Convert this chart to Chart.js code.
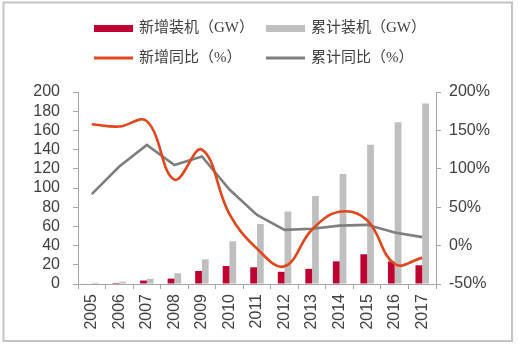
<!DOCTYPE html>
<html><head><meta charset="utf-8">
<script src="https://cdn.jsdelivr.net/npm/chart.js@4/dist/chart.umd.min.js"></script>
<style>html,body{margin:0;padding:0;background:#fff;}#wrap{width:518px;height:345px;position:relative;}</style>
</head><body><div id="wrap"><canvas id="c" width="518" height="345"></canvas></div>
<script>
const years = ['2005','2006','2007','2008','2009','2010','2011','2012','2013','2014','2015','2016','2017'];
const newCap = [0.5, 1.1, 3.6, 5.6, 13.6, 18.7, 17.4, 12.7, 15.8, 23.6, 31.0, 23.4, 19.5];
const cumCap = [1.3, 2.4, 5.4, 11.2, 25.7, 44.5, 62.5, 75.5, 91.7, 114.6, 145.0, 168.5, 188.0];
const newYoY = [158, 155, 162, 86, 125, 41, -4, -27, 21, 44, 33, -24, -16];
const cumYoY = [67, 103, 131, 105, 116, 73, 40, 20.5, 22, 26, 27, 17, 11];
const seriesNames = ['新增装机（GW）', '累计装机（GW）', '新增同比（%）', '累计同比（%）'];

const tickFont = {family: '"Liberation Sans", Arial, sans-serif', size: 16};
const axisColor = '#A6A6A6';
const textColor = '#404040';

const frameAndLegend = {
  id: 'frameAndLegend',
  beforeDraw(chart) {
    const ctx = chart.ctx;
    ctx.save();
    ctx.fillStyle = '#fff';
    ctx.fillRect(0, 0, chart.width, chart.height);
    ctx.strokeStyle = '#C4C4C4';
    ctx.lineWidth = 2;
    ctx.strokeRect(3.5, 2.5, 508.5, 338.5);
    ctx.restore();
  },
  afterDraw(chart) {
    const ctx = chart.ctx;
    const ds = chart.data.datasets;
    ctx.save();
    ctx.font = '15px "Liberation Serif", "Noto Sans CJK SC", serif';
    ctx.textBaseline = 'middle';
    ctx.textAlign = 'left';
    const cols = [[ds[0], ds[2]], [ds[1], ds[3]]];
    const boxW = 39, gap = 6, colGap = 12;
    const colW = cols.map(c => boxW + gap + Math.max(...c.map(d => ctx.measureText(d.label).width)));
    const total = colW[0] + colGap + colW[1];
    let x = 260 - total / 2;
    const rowsY = [28.5, 58];
    cols.forEach((c, ci) => {
      c.forEach((d, ri) => {
        const y = rowsY[ri];
        if (d.type === 'line') {
          ctx.fillStyle = d.borderColor;
          ctx.fillRect(x, y - 1.5, boxW, 3);
        } else {
          ctx.fillStyle = d.backgroundColor;
          ctx.fillRect(x, y - 3.5, boxW, 7);
        }
        ctx.fillStyle = textColor;
        ctx.fillText(d.label, x + boxW + gap, y);
      });
      x += colW[ci] + colGap;
    });
    ctx.restore();
  }
};

new Chart(document.getElementById('c'), {
  data: {
    labels: years,
    datasets: [
      {type: 'bar', label: seriesNames[0], data: newCap, backgroundColor: '#C00030', yAxisID: 'y', order: 2,
       barPercentage: 1, categoryPercentage: 0.49},
      {type: 'bar', label: seriesNames[1], data: cumCap, backgroundColor: '#BFBFBF', yAxisID: 'y', order: 2,
       barPercentage: 1, categoryPercentage: 0.49},
      {type: 'line', label: seriesNames[2], data: newYoY, borderColor: '#E2461A', borderWidth: 2.6, pointRadius: 0,
       tension: 0.4, fill: false, yAxisID: 'y1', order: 0},
      {type: 'line', label: seriesNames[3], data: cumYoY, borderColor: '#7F7F7F', borderWidth: 2.6, pointRadius: 0,
       tension: 0, fill: false, yAxisID: 'y1', order: 1}
    ]
  },
  options: {
    responsive: false,
    animation: false,
    devicePixelRatio: 1,
    layout: {padding: {top: 92, left: 0, right: 0, bottom: 0}},
    plugins: {legend: {display: false}, tooltip: {enabled: false}},
    scales: {
      x: {
        offset: true,
        grid: {display: true, drawOnChartArea: false, drawTicks: true, tickLength: 5, color: axisColor, offset: true},
        border: {display: true, color: axisColor, width: 1},
        ticks: {minRotation: 90, maxRotation: 90, autoSkip: false, padding: 5, color: textColor, font: tickFont},
        afterFit(s) { s.height = 61; }
      },
      y: {
        position: 'left', min: 0, max: 200,
        grid: {display: true, drawOnChartArea: false, drawTicks: true, tickLength: 5, color: axisColor},
        border: {display: true, color: axisColor, width: 1},
        ticks: {stepSize: 20, autoSkip: false, padding: 13, color: textColor, font: tickFont},
        afterFit(s) { s.width = 78; }
      },
      y1: {
        position: 'right', min: -50, max: 200,
        grid: {display: true, drawOnChartArea: false, drawTicks: true, tickLength: 5, color: axisColor},
        border: {display: true, color: axisColor, width: 1},
        ticks: {stepSize: 50, autoSkip: false, padding: 8, color: textColor, font: tickFont, callback: v => v + '%'},
        afterFit(s) { s.width = 82; }
      }
    }
  },
  plugins: [frameAndLegend]
});
</script>
</body></html>
